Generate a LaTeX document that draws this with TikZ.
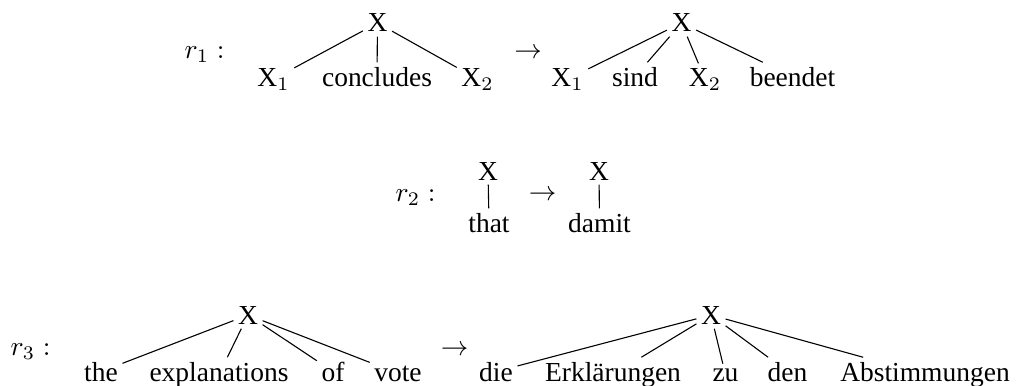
\documentclass[tikz,border=0pt]{standalone}
\usepackage{fontspec}
\setmainfont{Liberation Serif}
\usetikzlibrary{calc}

\begin{document}
\begin{tikzpicture}[x=0.3638pt,y=-0.3638pt,
  word/.style={inner sep=1.5pt,anchor=base},
  rulename/.style={inner sep=0pt,anchor=base west},
  branch/.style={line width=0.4pt,color=black}]
\useasboundingbox (0,0) rectangle (1017,385);

\node[rulename] (R1) at (184,58) {$r_1:$};
\node[word] (A1) at (528,58) {$\rightarrow$};
\node[word] (Xa) at (377.5,32) {X};
\node[word] (X1a) at (273.5,86) {X$_1$};
\node[word] (concludes) at (377,86) {concludes};
\node[word] (X2a) at (477.5,86) {X$_2$};
\node[word] (Xb) at (681.5,32) {X};
\node[word] (X1b) at (567.5,86) {X$_1$};
\node[word] (sind) at (635,86) {sind};
\node[word] (X2b) at (705,86) {X$_2$};
\node[word] (beendet) at (792.5,86) {beendet};

\node[rulename] (R2) at (395,201) {$r_2:$};
\node[word] (A2) at (542.5,200) {$\rightarrow$};
\node[word] (Xc) at (488,180) {X};
\node[word] (that) at (489,232) {that};
\node[word] (Xd) at (599,180) {X};
\node[word] (damit) at (599.5,232) {damit};

\node[rulename] (R3) at (10,355) {$r_3:$};
\node[word] (A3) at (454.5,355) {$\rightarrow$};
\node[word] (Xe) at (248,324) {X};
\node[word] (the) at (101,381) {the};
\node[word] (explanations) at (219,381) {explanations};
\node[word] (of) at (333,381) {of};
\node[word] (vote) at (398,381) {vote};
\node[word] (Xf) at (711,324) {X};
\node[word] (die) at (496,381) {die};
\node[word] (Erklaerungen) at (613,381) {Erklärungen};
\node[word] (zu) at (725.5,381) {zu};
\node[word] (den) at (787.5,381) {den};
\node[word] (Abstimmungen) at (925,381) {Abstimmungen};

\foreach \c in {X1a,concludes,X2a} \draw[branch] (Xa) -- (\c);
\foreach \c in {X1b,sind,X2b,beendet} \draw[branch] (Xb) -- (\c);
\draw[branch] (Xc) -- (that);
\draw[branch] (Xd) -- (damit);
\foreach \c in {the,explanations,of,vote} \draw[branch] (Xe) -- (\c);
\foreach \c in {die,Erklaerungen,zu,den,Abstimmungen} \draw[branch] (Xf) -- (\c);

\end{tikzpicture}
\end{document}
